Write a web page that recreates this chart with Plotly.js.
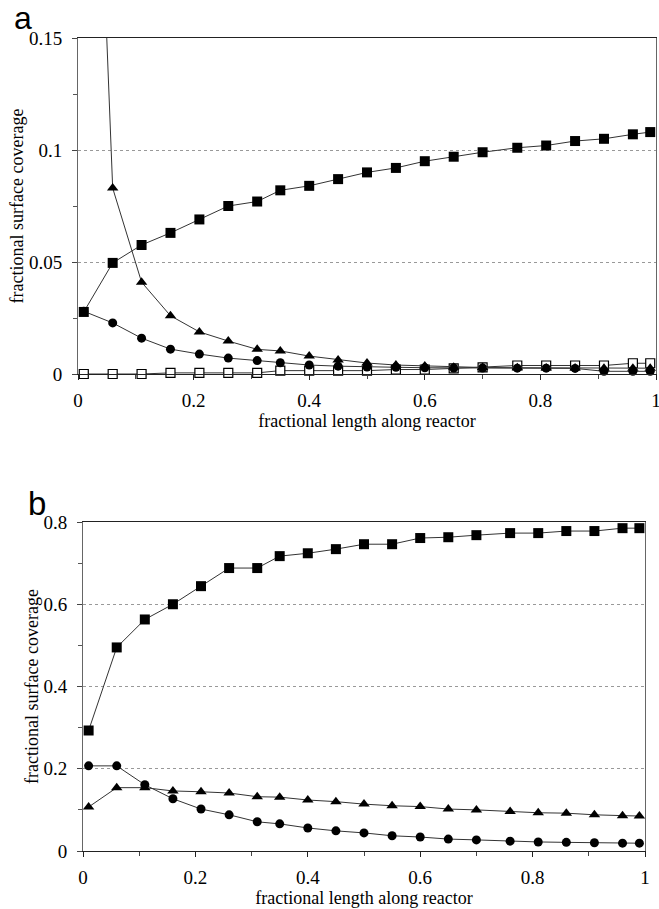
<!DOCTYPE html>
<html>
<head>
<meta charset="utf-8">
<script src="https://cdn.plot.ly/plotly-3.0.1.min.js"></script>
<style>html,body{margin:0;padding:0;background:#fff;}#chart{width:659px;height:909px;}</style>
</head>
<body>
<div id="chart"></div>
<script>
// shared positions along reactor
const xPos = [0.01,0.06,0.11,0.16,0.21,0.26,0.31,0.35,0.40,0.45,0.50,0.55,0.60,0.65,0.70,0.76,0.81,0.86,0.91,0.96,0.99];

// panel a
const aSquare   = [0.0277,0.0496,0.0576,0.063,0.069,0.075,0.077,0.082,0.084,0.087,0.090,0.092,0.095,0.097,0.099,0.101,0.102,0.104,0.105,0.107,0.108];
const aTriangle = [0.41,0.083,0.041,0.026,0.0188,0.0147,0.011,0.0103,0.008,0.0063,0.0049,0.004,0.0036,0.003,0.0029,0.0028,0.0027,0.0027,0.0026,0.0026,0.0026];
const aCircle   = [0.028,0.0228,0.016,0.0111,0.0089,0.0071,0.006,0.005,0.004,0.0035,0.0031,0.003,0.0028,0.0027,0.0027,0.0026,0.0026,0.0025,0.0012,0.0012,0.0012];
const aOpenSq   = [0,0,0,0.0005,0.0005,0.0005,0.0005,0.0015,0.0015,0.0015,0.0015,0.002,0.002,0.0025,0.003,0.0038,0.0038,0.0038,0.0038,0.0048,0.0048];

// panel b
const bSquare   = [0.293,0.495,0.563,0.6,0.644,0.688,0.688,0.717,0.724,0.734,0.746,0.746,0.761,0.763,0.768,0.773,0.773,0.778,0.778,0.785,0.785];
const bCircle   = [0.207,0.207,0.161,0.127,0.102,0.088,0.071,0.066,0.056,0.049,0.044,0.037,0.034,0.029,0.027,0.024,0.022,0.021,0.02,0.019,0.019];
const bTriangle = [0.107,0.154,0.154,0.146,0.144,0.141,0.132,0.131,0.124,0.12,0.114,0.11,0.108,0.102,0.1,0.096,0.093,0.092,0.088,0.086,0.085];

const xTitle = 'fractional length along reactor';
const yTitle = 'fractional surface coverage';

const lineStyle = {color:'#333', width:1};
function tr(y, sym, size, xa, ya, clip, open){
  return {
    x: xPos, y: y, xaxis: xa, yaxis: ya, type:'scatter', mode:'lines+markers',
    line: lineStyle, cliponaxis: clip, showlegend:false, hoverinfo:'skip',
    marker: open ? {symbol:sym, size:size, color:'#fff', line:{color:'#000', width:1.2}}
                 : {symbol:sym, size:size, color:'#000', line:{color:'#000', width:0}}
  };
}

const data = [
  tr(aOpenSq,'square',9,'x','y',false,true),
  tr(aCircle,'circle',9,'x','y',false,false),
  tr(aTriangle,'triangle-up',10,'x','y',true,false),
  tr(aSquare,'square',10,'x','y',false,false),
  tr(bCircle,'circle',9,'x2','y2',false,false),
  tr(bTriangle,'triangle-up',10,'x2','y2',false,false),
  tr(bSquare,'square',10,'x2','y2',false,false)
];

const SERIF = 'Liberation Serif';
function tf(){ return {family:SERIF, size:19, color:'#000'}; }
function ttf(){ return {family:SERIF, size:18, color:'#000'}; }

function xax(domain, anchor){
  return {
    domain: domain, anchor: anchor, range:[0,1], dtick:0.2, tick0:0,
    showgrid:false, zeroline:false, showline:true, linecolor:'#222', linewidth:1,
    mirror:true, ticks:'outside', ticklen:5, tickcolor:'#222',
    minor:{dtick:0.1, ticks:'outside', ticklen:4, tickcolor:'#444'},
    tickfont: tf(), ticklabelstandoff: 4, ticklabeloverflow:'allow',
    title:{text:xTitle, font:ttf(), standoff:0},
    automargin:false
  };
}
function yax(domain, anchor, range, dt){
  return {
    domain: domain, anchor: anchor, range: range, dtick: dt, tick0:0,
    showgrid:true, gridcolor:'#999', griddash:'dot', gridwidth:1,
    zeroline:false, showline:true, linecolor:'#666', linewidth:1, mirror:true,
    ticks:'outside', ticklen:5, tickcolor:'#444',
    minor:{dtick: dt/2, ticks:'outside', ticklen:4, tickcolor:'#555', showgrid:false},
    tickfont: tf(), ticklabelstandoff: 6, ticklabeloverflow:'allow',
    title:{text:yTitle, font:ttf(), standoff:0},
    automargin:false
  };
}

const layout = {
  width:659, height:909,
  margin:{l:0, r:0, t:0, b:0},
  paper_bgcolor:'#fff', plot_bgcolor:'#fff',
  font: {family:SERIF, size:19, color:'#000'},
  xaxis: xax([78/659, 656/659], 'y'),
  yaxis: yax([1-374/909, 1-38/909], 'x', [0,0.15], 0.05),
  xaxis2: xax([83/659, 645/659], 'y2'),
  yaxis2: yax([1-851/909, 1-522/909], 'x2', [0,0.8], 0.2),
  annotations:[
    {text:'a', xref:'paper', yref:'paper', x:12/659, y:1, yshift:2, xanchor:'left', yanchor:'top', showarrow:false,
     font:{family:'Liberation Sans', size:32, color:'#000'}},
    {text:'b', xref:'paper', yref:'paper', x:26/659, y:1-483/909, xanchor:'left', yanchor:'top', showarrow:false,
     font:{family:'Liberation Sans', size:33, color:'#000'}}
  ]
};

Plotly.newPlot('chart', data, layout, {staticPlot:true, displayModeBar:false});
</script>
</body>
</html>
